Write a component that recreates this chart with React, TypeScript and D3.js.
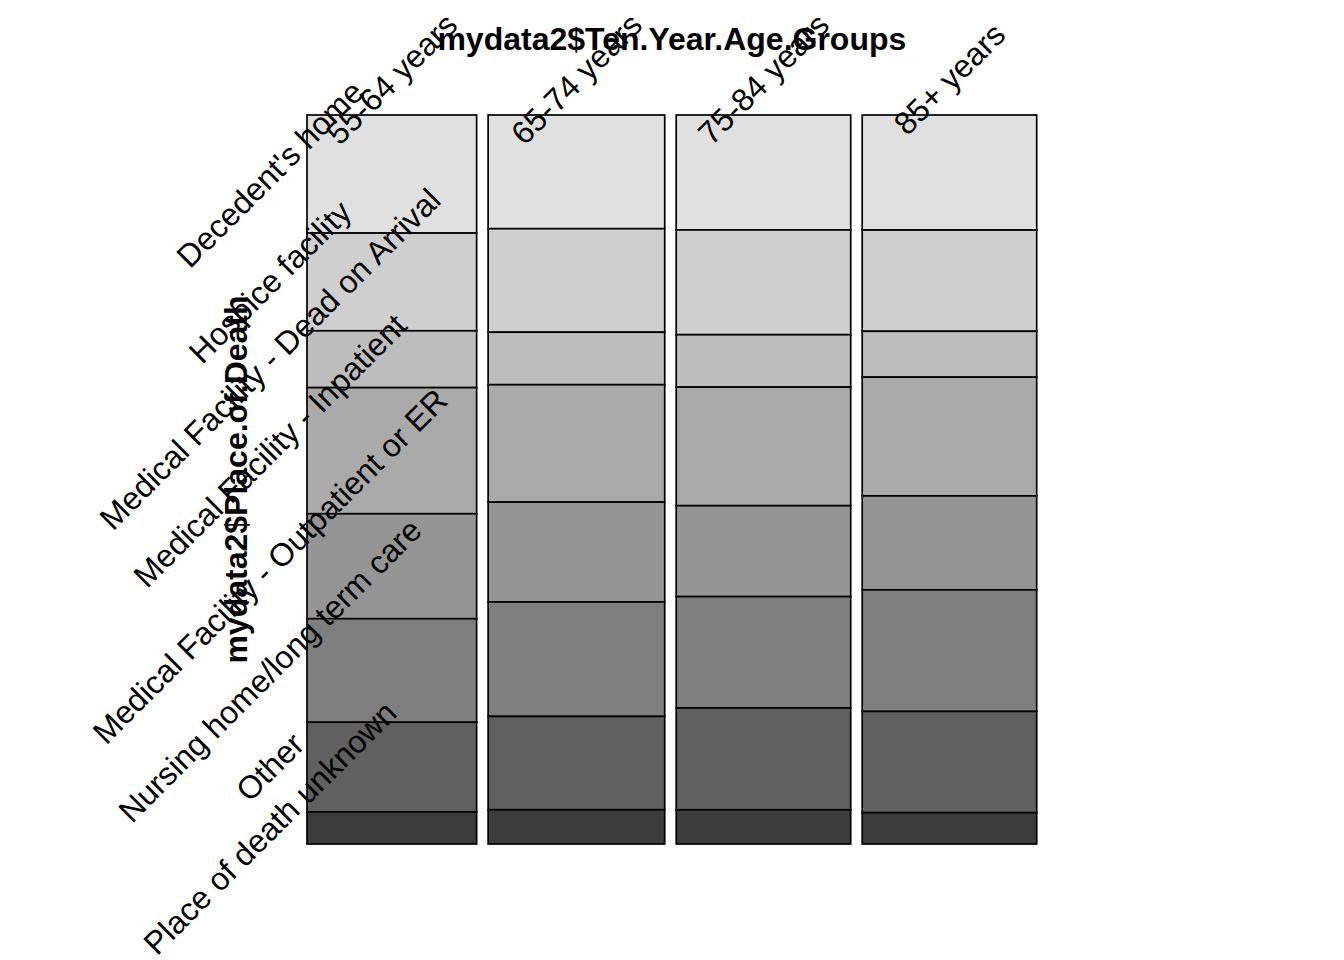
import React from "react";
import * as d3 from "d3";

const ageGroups = ["55-64 years", "65-74 years", "75-84 years", "85+ years"];
const places = [
  "Decedent's home",
  "Hospice facility",
  "Medical Facility - Dead on Arrival",
  "Medical Facility - Inpatient",
  "Medical Facility - Outpatient or ER",
  "Nursing home/long term care",
  "Other",
  "Place of death unknown",
];
// share of each age group (column widths)
const ageShare = [24.4, 25.4, 25.1, 25.1];
// place-of-death shares (%) within each age group
const share5564 = [16.2, 13.4, 7.8, 17.3, 14.4, 14.2, 12.3, 4.4];
const share6574 = [15.6, 14.2, 7.2, 16.1, 13.7, 15.7, 12.8, 4.7];
const share7584 = [15.8, 14.4, 7.2, 16.3, 12.5, 15.3, 14.0, 4.7];
const share85 = [15.8, 13.9, 6.3, 16.3, 12.9, 16.7, 13.9, 4.3];
const shares = [share5564, share6574, share7584, share85];

const fills = ["#E0E0E0", "#CFCFCF", "#BDBDBD", "#AAAAAA", "#959595", "#7E7E7E", "#606060", "#3C3C3C"];

const W = 1344;
const H = 960;
const left = 307;
const right = 1036.7;
const top = 115;
const bottom = 844;
const gap = 11.5;
const font = "'Liberation Sans', Arial, Helvetica, sans-serif";
const fs = 32;

export default function App() {
  const totalAge = d3.sum(ageShare);
  const avail = right - left - gap * (ageGroups.length - 1);
  const xw = d3.scaleLinear().domain([0, totalAge]).range([0, avail]);
  const cumAge = d3.cumsum(ageShare);

  const cols = ageGroups.map((g, i) => {
    const x0 = left + xw(cumAge[i] - ageShare[i]) + gap * i;
    const x1 = left + xw(cumAge[i]) + gap * i;
    const vals = shares[i];
    const tot = d3.sum(vals);
    const y = d3.scaleLinear().domain([0, tot]).range([top, bottom]);
    const cum = d3.cumsum(vals);
    const cells = vals.map((v, j) => ({
      y0: y(cum[j] - v),
      y1: y(cum[j]),
    }));
    return { g, x0, x1, cells };
  });

  const firstCol = cols[0];

  return (
    <svg width={W} height={H} style={{ position: "absolute", left: 0, top: 0, background: "#fff" }}>
      <rect x={0} y={0} width={W} height={H} fill="#fff" />
      {cols.map((c, i) => (
        <g key={i}>
          {c.cells.map((cell, j) => (
            <rect
              key={j}
              x={c.x0}
              y={cell.y0}
              width={c.x1 - c.x0}
              height={cell.y1 - cell.y0}
              fill={fills[j]}
              stroke="#000"
              strokeWidth={1.7}
            />
          ))}
        </g>
      ))}
      <text
        x={(left + right) / 2}
        y={50}
        textAnchor="middle"
        fontFamily={font}
        fontWeight="bold"
        fontSize={fs}
      >
        mydata2$Ten.Year.Age.Groups
      </text>
      <text
        transform={`translate(247, ${(top + bottom) / 2}) rotate(-90)`}
        textAnchor="middle"
        fontFamily={font}
        fontWeight="bold"
        fontSize={fs}
      >
        mydata2$Place.of.Death
      </text>
      {cols.map((c, i) => (
        <text
          key={"cl" + i}
          transform={`translate(${(c.x0 + c.x1) / 2}, 79) rotate(-45)`}
          textAnchor="middle"
          dominantBaseline="central"
          fontFamily={font}
          fontSize={fs}
        >
          {c.g}
        </text>
      ))}
      {places.map((p, j) => {
        const cell = firstCol.cells[j];
        return (
          <text
            key={"rl" + j}
            transform={`translate(270, ${(cell.y0 + cell.y1) / 2}) rotate(-45)`}
            textAnchor="middle"
            dominantBaseline="central"
            fontFamily={font}
            fontSize={fs}
          >
            {p}
          </text>
        );
      })}
    </svg>
  );
}
